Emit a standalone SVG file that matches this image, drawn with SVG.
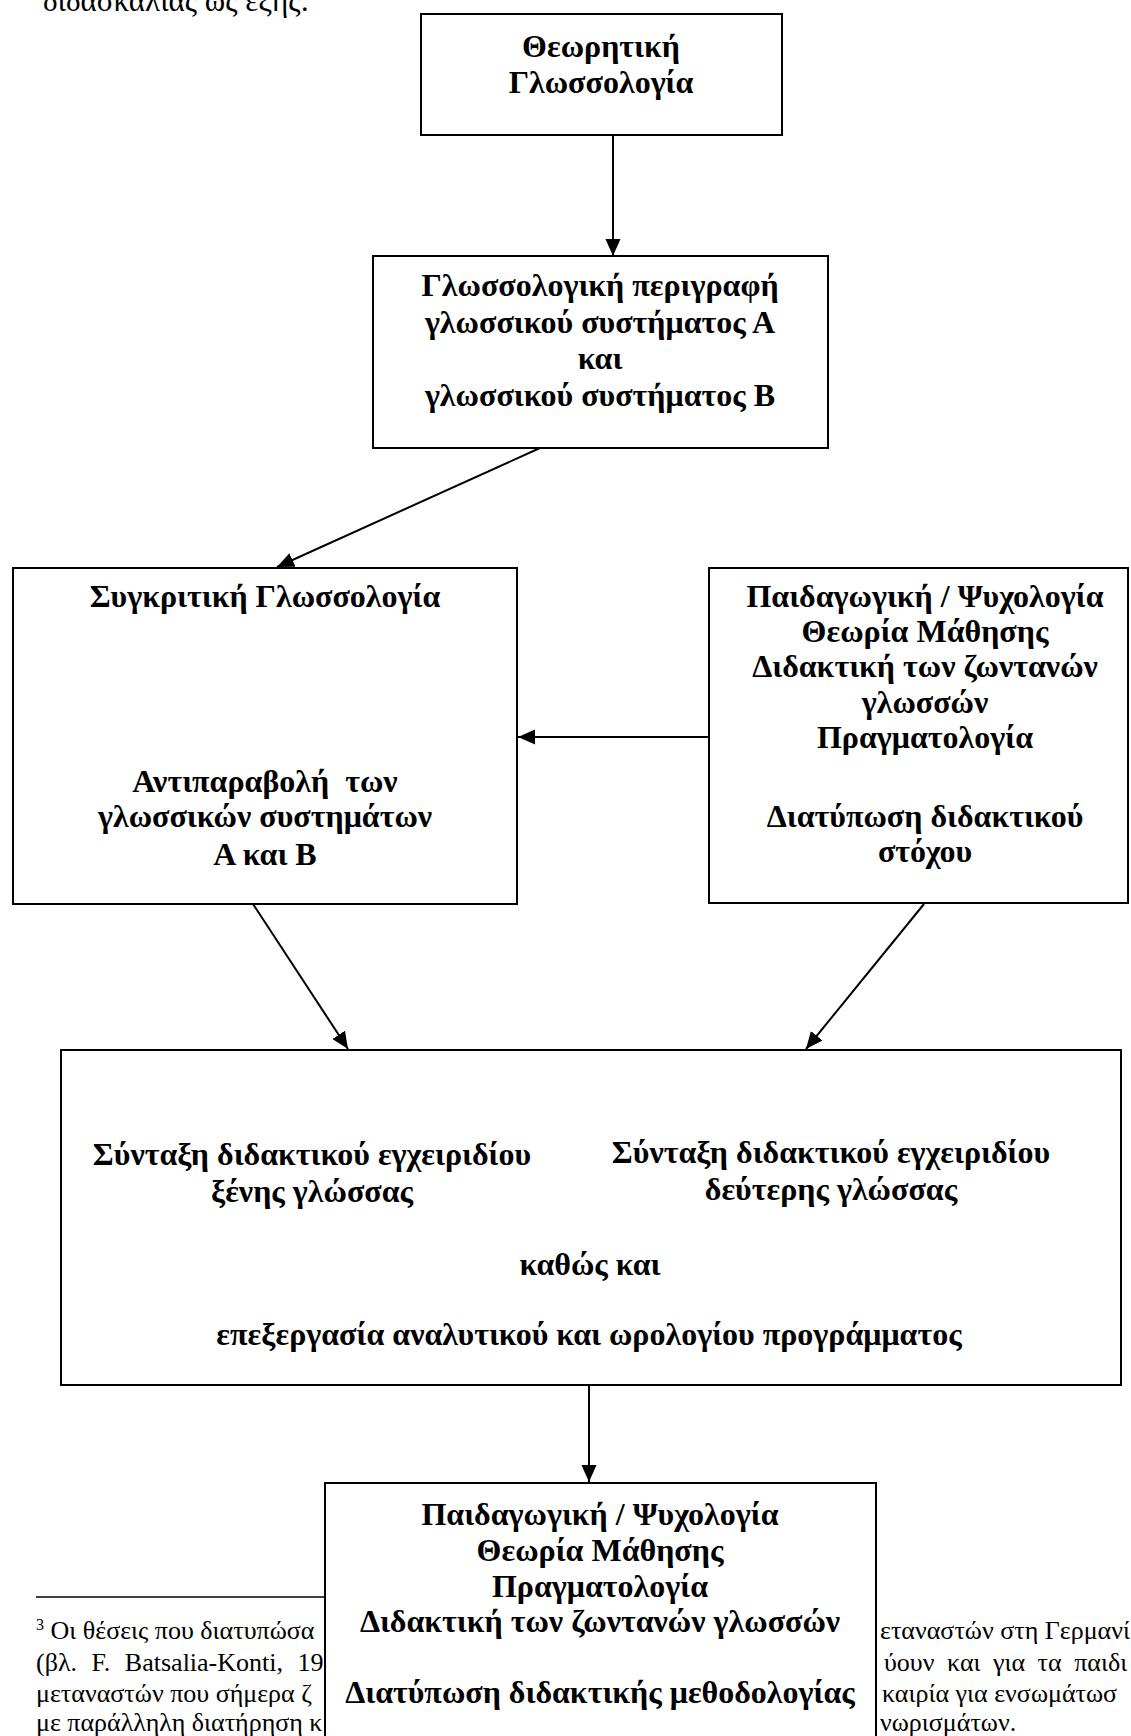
<svg xmlns="http://www.w3.org/2000/svg" width="1131" height="1736" viewBox="0 0 1131 1736">
<style>
.box{fill:#fff;stroke:#000;stroke-width:2}
.t{font-family:"Liberation Serif","Times New Roman",serif;font-weight:bold;font-size:32px;fill:#000;text-anchor:middle}
.p{font-family:"Liberation Serif","Times New Roman",serif;font-size:26px;fill:#000}
.c{stroke:#000;stroke-width:2;fill:none;marker-end:url(#ah)}
</style>
<defs>
<marker id="ah" markerUnits="userSpaceOnUse" markerWidth="18" markerHeight="16" refX="17" refY="7.5" orient="auto">
<path d="M0,0 L17,7.5 L0,15 z" fill="#000"/>
</marker>
</defs>
<rect width="1131" height="1736" fill="#fff"/>
<text class="p" x="43" y="11" style="font-size:31px">διδασκαλίας ως εξής:</text>

<g id="footnote">
<line x1="36" y1="1597" x2="325" y2="1597" stroke="#000" stroke-width="1.5"/>
<text class="p" x="36" y="1639"><tspan font-size="16" dy="-9">3</tspan><tspan dy="9"> Οι θέσεις που διατυπώσα</tspan></text>
<text class="p" x="36" y="1671" style="word-spacing:8px">(βλ. F. Batsalia-Konti, 19</text>
<text class="p" x="36" y="1702">μεταναστών που σήμερα ζ</text>
<text class="p" x="36" y="1731">με παράλληλη διατήρηση κ</text>
<text class="p" x="880" y="1639">εταναστών στη Γερμανί</text>
<text class="p" x="884" y="1671" style="word-spacing:6px">ύουν και για τα παιδι</text>
<text class="p" x="882" y="1702">καιρία για ενσωμάτωσ</text>
<text class="p" x="880" y="1731">νωρισμάτων.</text>
</g>

<g id="connectors">
<line class="c" x1="613" y1="135" x2="613" y2="256"/>
<line class="c" x1="540" y1="448" x2="277" y2="567"/>
<line class="c" x1="709" y1="737" x2="518" y2="737"/>
<line class="c" x1="253" y1="904" x2="348" y2="1049"/>
<line class="c" x1="924" y1="904" x2="806" y2="1049"/>
<line class="c" x1="589" y1="1385" x2="589" y2="1482"/>
</g>

<g id="n1">
<rect class="box" x="421" y="14" width="361" height="121"/>
<text class="t" x="601" y="57">Θεωρητική</text>
<text class="t" x="601" y="93">Γλωσσολογία</text>
</g>

<g id="n2">
<rect class="box" x="373" y="256" width="455" height="192"/>
<text class="t" x="600" y="296">Γλωσσολογική περιγραφή</text>
<text class="t" x="600" y="333">γλωσσικού συστήματος Α</text>
<text class="t" x="600" y="369">και</text>
<text class="t" x="600" y="406">γλωσσικού συστήματος Β</text>
</g>

<g id="n3">
<rect class="box" x="13" y="568" width="504" height="336"/>
<text class="t" x="265" y="607">Συγκριτική Γλωσσολογία</text>
<text class="t" x="265" y="792" style="white-space:pre">Αντιπαραβολή  των</text>
<text class="t" x="265" y="827">γλωσσικών συστημάτων</text>
<text class="t" x="265" y="865">Α και Β</text>
</g>

<g id="n4">
<rect class="box" x="709" y="568" width="419" height="335"/>
<text class="t" x="925" y="607">Παιδαγωγική / Ψυχολογία</text>
<text class="t" x="925" y="642">Θεωρία Μάθησης</text>
<text class="t" x="925" y="677">Διδακτική των ζωντανών</text>
<text class="t" x="925" y="713">γλωσσών</text>
<text class="t" x="925" y="748">Πραγματολογία</text>
<text class="t" x="925" y="827">Διατύπωση διδακτικού</text>
<text class="t" x="925" y="862">στόχου</text>
</g>

<g id="n5">
<rect class="box" x="61" y="1050" width="1060" height="335"/>
<text class="t" x="312" y="1165">Σύνταξη διδακτικού εγχειριδίου</text>
<text class="t" x="312" y="1202">ξένης γλώσσας</text>
<text class="t" x="831" y="1163">Σύνταξη διδακτικού εγχειριδίου</text>
<text class="t" x="831" y="1200">δεύτερης γλώσσας</text>
<text class="t" x="590" y="1275">καθώς και</text>
<text class="t" x="589" y="1345">επεξεργασία αναλυτικού και ωρολογίου προγράμματος</text>
</g>

<g id="n6">
<rect class="box" x="325" y="1483" width="551" height="270"/>
<text class="t" x="600" y="1525">Παιδαγωγική / Ψυχολογία</text>
<text class="t" x="600" y="1561">Θεωρία Μάθησης</text>
<text class="t" x="600" y="1597">Πραγματολογία</text>
<text class="t" x="600" y="1632">Διδακτική των ζωντανών γλωσσών</text>
<text class="t" x="600" y="1703">Διατύπωση διδακτικής μεθοδολογίας</text>
</g>
</svg>
